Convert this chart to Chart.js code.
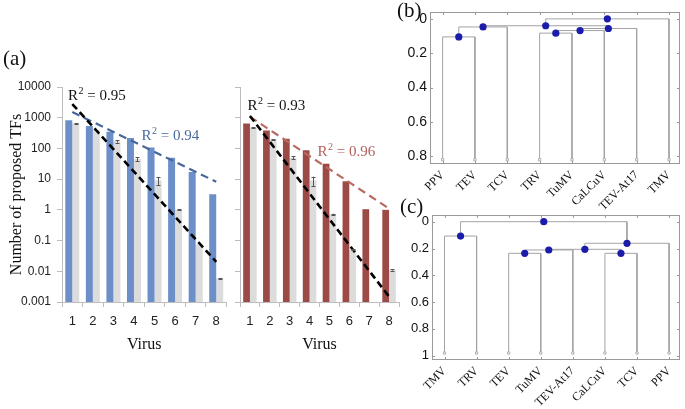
<!DOCTYPE html>
<html><head><meta charset="utf-8">
<script src="https://cdn.jsdelivr.net/npm/chart.js@4.4.1/dist/chart.umd.min.js"></script>
<style>
html,body{margin:0;padding:0;background:#fff;}
#wrap{position:relative;width:685px;height:409px;overflow:hidden;background:#fff;}
canvas{position:absolute;}
.pl{position:absolute;font-family:"Liberation Serif","Times New Roman",serif;font-size:21px;color:#111;line-height:1;}
</style></head><body>
<div id="wrap">
<canvas id="barA" width="232" height="360" style="left:0px;top:0px"></canvas>
<canvas id="barB" width="176" height="360" style="left:228px;top:0px"></canvas>
<canvas id="dendB" width="305" height="215" style="left:380px;top:0px"></canvas>
<canvas id="dendC" width="305" height="209" style="left:380px;top:200px"></canvas>
<div class="pl" style="left:3px;top:48px">(a)</div>
<div class="pl" style="left:397px;top:0px">(b)</div>
<div class="pl" style="left:400px;top:196px">(c)</div>
</div>
<script>
const SERIF = "'Liberation Serif','Times New Roman',serif";
const SANS = "'Liberation Sans',Arial,sans-serif";

// ---- data: panel (a) ----
const virusCategories = ['1','2','3','4','5','6','7','8'];
const logTickValues = [0.001,0.01,0.1,1,10,100,1000,10000];
const logTickLabels = ['0.001','0.01','0.1','1','10','100','1000','10000'];

const blueTFs   = [820,540,350,220,108,50,17,3.2];
const greyTFsA  = [650,400,170,45,9,1,0.075,0.0058];
const greyErrA  = [25,0,15,6,2.5,0.04,0,0.0003];
const blueFitEnds   = [1535,8.2];
const blackFitEndsA = [2790,0.0204];

const redTFs    = [650,380,205,88,32,8.5,1.05,1.0];
const greyTFsB  = [480,190,50,9,0.72,0.05,null,0.011];
const greyErrB  = [15,8,6,3,0.03,0.002,0,0.0005];
const redFitEnds    = [1075,1.1];
const blackFitEndsB = [1135,0.0015];

const r2Values = ['0.95','0.94','0.93','0.96'];

// ---- data: panels (b) and (c) ----
const leavesB = ['PPV','TEV','TCV','TRV','TuMV','CaLCuV','TEV-At17','TMV'];
const mergesB = [[0,1,0.105],['m0',2,0.047],[3,4,0.083],['m2',5,0.068],['m3',6,0.056],['m1','m4',0.04],['m5',7,0.0]];
const leafBaseB = 0.82;
const yTicksB = [0,0.2,0.4,0.6,0.8];
const yTickLabelsB = ['0','0.2','0.4','0.6','0.8'];

const leavesC = ['TMV','TRV','TEV','TuMV','TEV-At17','CaLCuV','TCV','PPV'];
const mergesC = [[0,1,0.107],[2,3,0.236],['m1',4,0.211],[5,6,0.236],['m2','m3',0.206],['m4',7,0.161],['m0','m5',0.0]];
const leafBaseC = 0.98;
const yTicksC = [0,0.2,0.4,0.6,0.8,1];
const yTickLabelsC = ['0','0.2','0.4','0.6','0.8','1'];

// ---- helpers ----
const endsToSeries = ends => virusCategories.map((_, i) => i === 0 ? ends[0] : (i === virusCategories.length - 1 ? ends[1] : null));

const errPlugin = {
  id: 'errbars',
  afterDatasetsDraw(chart) {
    const ctx = chart.ctx, ys = chart.scales.y;
    chart.data.datasets.forEach((ds, di) => {
      if (!ds.errors) return;
      const meta = chart.getDatasetMeta(di);
      meta.data.forEach((bar, i) => {
        const v = ds.data[i], e = ds.errors[i];
        if (v == null || !e) return;
        const y1 = ys.getPixelForValue(v + e), y2 = ys.getPixelForValue(Math.max(v - e, 1e-9));
        const x = Math.round(bar.x) + 0.5;
        ctx.save();
        ctx.strokeStyle = '#555'; ctx.lineWidth = 1;
        ctx.beginPath();
        ctx.moveTo(x, y1); ctx.lineTo(x, y2);
        ctx.moveTo(x - 2, Math.round(y1) + 0.5); ctx.lineTo(x + 2, Math.round(y1) + 0.5);
        ctx.moveTo(x - 2, Math.round(y2) + 0.5); ctx.lineTo(x + 2, Math.round(y2) + 0.5);
        ctx.stroke();
        ctx.restore();
      });
    });
  }
};

function r2Plugin(items) {
  return {
    id: 'r2',
    afterDraw(chart) {
      const ctx = chart.ctx;
      items.forEach(it => {
        ctx.save();
        ctx.fillStyle = it.color;
        ctx.textBaseline = 'middle';
        ctx.textAlign = 'left';
        let x = it.x;
        ctx.font = '15px ' + SERIF;
        ctx.fillText('R', x, it.y); x += ctx.measureText('R').width + 0.5;
        ctx.font = '10px ' + SERIF;
        ctx.fillText('2', x, it.y - 5); x += ctx.measureText('2').width;
        ctx.font = '15px ' + SERIF;
        ctx.fillText(' = ' + it.text, x, it.y);
        ctx.restore();
      });
    }
  };
}

function barChart(id, cfg) {
  const grid = {display: true, drawOnChartArea: false, drawTicks: true, tickLength: 5, color: '#bdbdbd'};
  return new Chart(document.getElementById(id), {
    type: 'bar',
    data: {
      labels: virusCategories,
      datasets: [
        {type: 'line', data: endsToSeries(cfg.fitBlack), borderColor: '#000', borderWidth: 2.6, borderDash: [7, 4], pointRadius: 0, spanGaps: true, fill: false, order: 0},
        {type: 'line', data: endsToSeries(cfg.fitColor), borderColor: cfg.fitLineColor, borderWidth: 2.2, borderDash: [8, 5], pointRadius: 0, spanGaps: true, fill: false, order: 1},
        {type: 'bar', data: cfg.colored, backgroundColor: cfg.barColor, categoryPercentage: 0.68, barPercentage: 1.0, order: 3},
        {type: 'bar', data: cfg.grey, errors: cfg.greyErr, backgroundColor: '#dcdcdc', categoryPercentage: 0.68, barPercentage: 1.0, order: 3}
      ]
    },
    options: {
      responsive: false, animation: false, devicePixelRatio: 1,
      layout: {padding: {top: 87, right: cfg.padRight, left: 0, bottom: 0}},
      plugins: {legend: {display: false}, tooltip: {enabled: false}},
      scales: {
        x: {
          type: 'category', offset: true,
          grid: Object.assign({}, grid, {offset: true}),
          border: {display: true, color: '#bdbdbd'},
          ticks: {font: {family: SANS, size: 13}, color: '#222', padding: 7, maxRotation: 0, autoSkip: false},
          title: {display: true, text: 'Virus', font: {family: SERIF, size: 16}, color: '#111', padding: {top: 0, bottom: 6}},
          afterFit(s) { s.height = 58; }
        },
        y: {
          type: 'logarithmic', min: 0.001, max: 10000,
          afterBuildTicks(s) { s.ticks = logTickValues.map(v => ({value: v})); },
          grid: grid,
          border: {display: true, color: '#bdbdbd'},
          ticks: {display: cfg.showY, callback: (v, i) => logTickLabels[i], font: {family: SANS, size: 12}, color: '#222', padding: 6},
          title: {display: cfg.showY, text: 'Number of proposed TFs', font: {family: SERIF, size: 16}, color: '#111', padding: {top: 7, bottom: 0}},
          afterFit(s) { s.width = cfg.yWidth; }
        }
      }
    },
    plugins: [errPlugin, r2Plugin(cfg.r2)]
  });
}

barChart('barA', {
  colored: blueTFs, barColor: '#6d8fc9', grey: greyTFsA, greyErr: greyErrA,
  fitColor: blueFitEnds, fitLineColor: '#46679c', fitBlack: blackFitEndsA,
  showY: true, yWidth: 62, padRight: 5.5,
  r2: [{x: 68, y: 96, text: r2Values[0], color: '#111'}, {x: 141.5, y: 136, text: r2Values[1], color: '#4a6a9c'}]
});
barChart('barB', {
  colored: redTFs, barColor: '#9b4a46', grey: greyTFsB, greyErr: greyErrB,
  fitColor: redFitEnds, fitLineColor: '#b86a62', fitBlack: blackFitEndsB,
  showY: false, yWidth: 12, padRight: 5,
  r2: [{x: 19.5, y: 106, text: r2Values[2], color: '#111'}, {x: 89.5, y: 152, text: r2Values[3], color: '#b3605a'}]
});

function dendro(id, cfg) {
  const nodes = [];
  const at = c => typeof c === 'string' ? nodes[+c.slice(1)] : {x: c, y: cfg.leafBase};
  const datasets = [];
  const dots = [];
  cfg.merges.forEach(([a, b, h]) => {
    const pa = at(a), pb = at(b);
    datasets.push({type: 'line', data: [{x: pa.x, y: pa.y}, {x: pa.x, y: h}, {x: pb.x, y: h}, {x: pb.x, y: pb.y}],
      borderColor: '#a3a3a3', borderWidth: 1, pointRadius: 0, fill: false, tension: 0, order: 3});
    const n = {x: (pa.x + pb.x) / 2, y: h};
    nodes.push(n); dots.push(n);
  });
  datasets.push({type: 'scatter', data: cfg.leaves.map((_, i) => ({x: i, y: cfg.leafBase})), pointStyle: 'rect', pointRadius: 1.6,
    borderColor: '#b0b0b0', backgroundColor: '#fff', borderWidth: 1, order: 2});
  datasets.push({type: 'scatter', data: dots, pointRadius: 3.6, backgroundColor: '#1c1cab', borderColor: '#1c1cab', borderWidth: 0, order: 0});

  const boxPlugin = {
    id: 'box',
    afterDraw(chart) {
      const ctx = chart.ctx, {left, top, right, bottom} = chart.chartArea;
      const xs = chart.scales.x, ys = chart.scales.y;
      ctx.save();
      ctx.strokeStyle = '#9a9a9a'; ctx.lineWidth = 1;
      ctx.strokeRect(Math.round(left) + 0.5, Math.round(top) + 0.5, Math.round(right - left) - 1, Math.round(bottom - top) - 1);
      ctx.beginPath();
      cfg.yTicks.forEach(v => {
        const y = Math.round(ys.getPixelForValue(v)) + 0.5;
        ctx.moveTo(left, y); ctx.lineTo(left + 3, y);
        ctx.moveTo(right - 3, y); ctx.lineTo(right, y);
      });
      cfg.leaves.forEach((_, i) => {
        const x = Math.round(xs.getPixelForValue(i)) + 0.5;
        ctx.moveTo(x, bottom); ctx.lineTo(x, bottom - 3);
        ctx.moveTo(x, top); ctx.lineTo(x, top + 3);
      });
      ctx.stroke();
      ctx.restore();
    }
  };

  return new Chart(document.getElementById(id), {
    type: 'scatter',
    data: {datasets},
    options: {
      responsive: false, animation: false, devicePixelRatio: 1,
      layout: {padding: {top: cfg.padTop, right: cfg.padRight, left: 0, bottom: 0}},
      plugins: {legend: {display: false}, tooltip: {enabled: false}},
      scales: {
        x: {
          type: 'linear', min: -0.39, max: 7.34,
          afterBuildTicks(s) { s.ticks = cfg.leaves.map((_, i) => ({value: i})); },
          ticks: {autoSkip: false, minRotation: 45, maxRotation: 45, callback: (v, i) => cfg.leaves[i], font: {family: SERIF, size: 12}, color: '#111', padding: 4},
          grid: {display: false, drawTicks: false}, border: {display: false},
          afterFit(s) { s.height = cfg.xAxisH; }
        },
        y: {
          type: 'linear', reverse: true, min: cfg.yMin, max: cfg.yMax,
          afterBuildTicks(s) { s.ticks = cfg.yTicks.map(v => ({value: v})); },
          ticks: {callback: (v, i) => cfg.yTickLabels[i], font: {family: SANS, size: cfg.yFont}, color: '#111', padding: 3},
          grid: {display: false, drawTicks: false}, border: {display: false},
          afterFit(s) { s.width = cfg.yAxisW; }
        }
      }
    },
    plugins: [boxPlugin]
  });
}

dendro('dendB', {leaves: leavesB, merges: mergesB, leafBase: leafBaseB, yTicks: yTicksB, yTickLabels: yTickLabelsB,
  yMin: -0.04, yMax: 0.845, yFont: 14, padTop: 12, padRight: 3, xAxisH: 51, yAxisW: 50});
dendro('dendC', {leaves: leavesC, merges: mergesC, leafBase: leafBaseC, yTicks: yTicksC, yTickLabels: yTickLabelsC,
  yMin: -0.05, yMax: 1.032, yFont: 13, padTop: 15, padRight: 2, xAxisH: 49, yAxisW: 52});
</script>
</body></html>
